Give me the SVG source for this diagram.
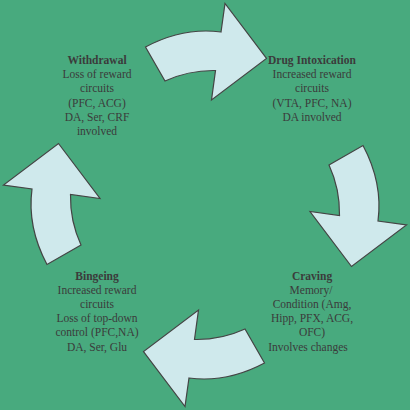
<svg xmlns="http://www.w3.org/2000/svg" xmlns:xlink="http://www.w3.org/1999/xlink" width="410" height="410" viewBox="0 0 410 410">
<style>
.arrow{fill:#cfe9ec;stroke:#444;stroke-width:1.2;stroke-linejoin:miter}
text{font-family:"Liberation Serif","Times New Roman",serif;font-size:11.5px;fill:#3b3b3b;text-anchor:middle}
.t{font-weight:bold}
</style>
<defs>
<path id="arr" class="arrow" d="M145.5,47 Q183,27 221,32 L225,3.5 L266.5,58.5 L211.5,100 L215.5,70.5 Q189,70 165,81 Z"/>
</defs>
<rect width="410" height="410" fill="#48aa7e"/>
<g id="connectors">
<use xlink:href="#arr" href="#arr"/>
<use xlink:href="#arr" href="#arr" transform="rotate(90 205 205)"/>
<use xlink:href="#arr" href="#arr" transform="rotate(180 205 205)"/>
<use xlink:href="#arr" href="#arr" transform="rotate(270 205 205)"/>
</g>
<g id="withdrawal">
<text x="97" y="64" class="t">Withdrawal</text>
<text x="97" y="78.2">Loss of reward</text>
<text x="97" y="92.4">circuits</text>
<text x="97" y="106.6">(PFC, ACG)</text>
<text x="97" y="120.8">DA, Ser, CRF</text>
<text x="97" y="135">involved</text>
</g>
<g id="intoxication">
<text x="312" y="64" class="t">Drug Intoxication</text>
<text x="312" y="78.2">Increased reward</text>
<text x="312" y="92.4">circuits</text>
<text x="312" y="106.6">(VTA, PFC, NA)</text>
<text x="312" y="120.8">DA involved</text>
</g>
<g id="bingeing">
<text x="97" y="279.5" class="t">Bingeing</text>
<text x="97" y="293.7">Increased reward</text>
<text x="97" y="307.9">circuits</text>
<text x="97" y="322.1">Loss of top-down</text>
<text x="97" y="336.3">control (PFC,NA)</text>
<text x="97" y="350.5">DA, Ser, Glu</text>
</g>
<g id="craving">
<text x="312" y="279.5" class="t">Craving</text>
<text x="311" y="293.7">Memory/</text>
<text x="312" y="307.9">Condition (Amg,</text>
<text x="312" y="322.1">Hipp, PFX, ACG,</text>
<text x="312" y="336.3">OFC)</text>
<text x="308" y="350.5">Involves changes</text>
</g>
</svg>
